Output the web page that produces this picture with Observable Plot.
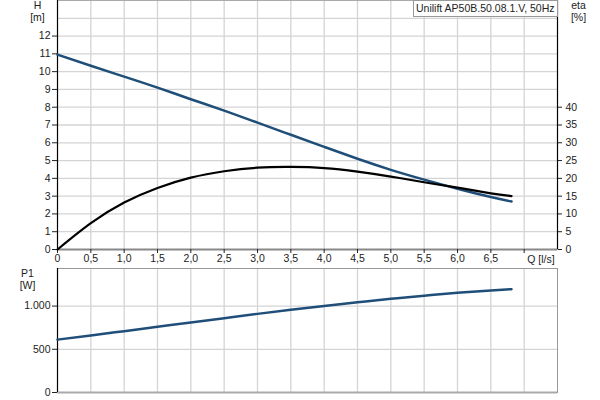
<!DOCTYPE html>
<html><head><meta charset="utf-8">
<script src="https://cdn.jsdelivr.net/npm/d3@7"></script>
<script src="https://cdn.jsdelivr.net/npm/@observablehq/plot@0.6"></script>
<style>
html,body{margin:0;padding:0;background:#fff;}
#chart{position:relative;width:600px;height:400px;font-family:"Liberation Sans",Arial,sans-serif;font-size:10.5px;color:#222;}
#chart svg{position:absolute;left:0;}
#legend{position:absolute;left:413px;top:0px;height:15px;line-height:15px;padding:0 2px;border:1px solid #999;background:#fff;font-size:10.5px;white-space:nowrap;color:#222;}
</style></head><body><div id="chart"></div>
<script>
// ---- data ----
const flow  = [0, 0.5, 1.0, 1.5, 2.0, 2.5, 3.0, 3.5, 4.0, 4.5, 5.0, 5.5, 6.0, 6.5, 6.81];
const head  = [10.96, 10.33, 9.72, 9.10, 8.45, 7.81, 7.13, 6.45, 5.77, 5.10, 4.48, 3.93, 3.42, 2.95, 2.70];
const eta   = [0, 7.4, 13.2, 17.3, 20.2, 22.0, 23.0, 23.2, 22.9, 21.9, 20.5, 18.9, 17.4, 15.8, 15.0];
const power = [612, 660, 710, 760, 810, 860, 910, 957, 1002, 1044, 1084, 1120, 1153, 1181, 1196];

const xTickValues = [0, 0.5, 1, 1.5, 2, 2.5, 3, 3.5, 4, 4.5, 5, 5.5, 6, 6.5, 7];
const xTickLabels = ["0", "0,5", "1,0", "1,5", "2,0", "2,5", "3,0", "3,5", "4,0", "4,5", "5,0", "5,5", "6,0", "6,5", ""];
const xGrid = [0.5, 1, 1.5, 2, 2.5, 3, 3.5, 4, 4.5, 5, 5.5, 6, 6.5, 7];
const hTicks = [0, 1, 2, 3, 4, 5, 6, 7, 8, 9, 10, 11, 12];
const hGrid = [1, 2, 3, 4, 5, 6, 7, 8, 9, 10, 11, 12, 13];
const etaTicks = [0, 5, 10, 15, 20, 25, 30, 35, 40];
const pTicks = [0, 500, 1000];
const pTickLabels = ["0", "500", "1.000"];
const pGrid = [500, 1000];
const legendText = "Unilift AP50B.50.08.1.V, 50Hz";

const pumpRows = flow.map((q, i) => ({q, h: head[i], eta: eta[i], p: power[i]}));

const style = {fontFamily: "'Liberation Sans', Arial, sans-serif", fontSize: "10.5px", color: "#222", background: "transparent", overflow: "visible"};
const gridColor = "#d4d4d4";
const blue = "#1f4e79";

const chart = document.getElementById("chart");

// ---- top chart: H ----
const topPlot = Plot.plot({
  width: 600, height: 265, marginLeft: 57, marginRight: 43, marginTop: 0, marginBottom: 16,
  style,
  x: {domain: [0, 7.5]},
  y: {domain: [0, 14]},
  marks: [
    Plot.ruleX(xGrid, {stroke: gridColor, strokeWidth: 1.3}),
    Plot.ruleY(hGrid, {stroke: gridColor, strokeWidth: 1.3}),
    Plot.frame({stroke: "#aaa"}),
    Plot.ruleY([0], {stroke: "#888", strokeWidth: 2}),
    Plot.ruleX([0], {stroke: "#000", strokeWidth: 1.2}),
    Plot.ruleX([7.5], {stroke: "#000", strokeWidth: 1.2}),
    Plot.axisY({ticks: hTicks, tickSize: 5, tickPadding: 2, label: null}),
    Plot.axisX({ticks: xTickValues, tickFormat: d => xTickLabels[xTickValues.indexOf(d)], tickSize: 4, tickPadding: 1, label: null}),
    Plot.text(["Q [l/s]"], {x: 7.0, y: 0, dx: 3, dy: 10, textAnchor: "start", lineAnchor: "middle"}),
    Plot.text(["H"], {frameAnchor: "top-left", dx: -20, dy: 5, textAnchor: "middle", lineAnchor: "middle"}),
    Plot.text(["[m]"], {frameAnchor: "top-left", dx: -20, dy: 17.5, textAnchor: "middle", lineAnchor: "middle"}),
    Plot.line(pumpRows, {x: "q", y: "h", stroke: blue, strokeWidth: 2.5, curve: "natural"})
  ]
});
topPlot.style.top = "0px";
chart.appendChild(topPlot);

// ---- top chart overlay: eta (right axis) ----
const etaPlot = Plot.plot({
  width: 600, height: 265, marginLeft: 57, marginRight: 43, marginTop: 0, marginBottom: 16,
  style,
  x: {domain: [0, 7.5], axis: null},
  y: {domain: [0, 70]},
  marks: [
    Plot.axisY({anchor: "right", ticks: etaTicks, tickSize: 4, tickPadding: 4, label: null}),
    Plot.text(["eta"], {frameAnchor: "top-right", dx: 21, dy: 5, textAnchor: "middle", lineAnchor: "middle"}),
    Plot.text(["[%]"], {frameAnchor: "top-right", dx: 21, dy: 17.5, textAnchor: "middle", lineAnchor: "middle"}),
    Plot.line(pumpRows, {x: "q", y: "eta", stroke: "#000", strokeWidth: 2.2, curve: "natural"})
  ]
});
etaPlot.style.top = "0px";
chart.appendChild(etaPlot);

// ---- bottom chart: P1 ----
const botPlot = Plot.plot({
  width: 600, height: 135, marginLeft: 57, marginRight: 43, marginTop: 3, marginBottom: 8,
  style,
  x: {domain: [0, 7.5], axis: null},
  y: {domain: [0, 1435]},
  marks: [
    Plot.ruleX(xGrid, {stroke: gridColor, strokeWidth: 1.3}),
    Plot.ruleY(pGrid, {stroke: gridColor, strokeWidth: 1.3}),
    Plot.frame({stroke: "#999"}),
    Plot.ruleY([0], {stroke: "#aaa", strokeWidth: 2}),
    Plot.ruleX([0], {stroke: "#000", strokeWidth: 1.2}),
    Plot.axisY({ticks: pTicks, tickFormat: d => pTickLabels[pTicks.indexOf(d)], tickSize: 5, tickPadding: 2, label: null}),
    Plot.text(["P1"], {frameAnchor: "top-left", dx: -30, dy: 5.5, textAnchor: "middle", lineAnchor: "middle"}),
    Plot.text(["[W]"], {frameAnchor: "top-left", dx: -30, dy: 17.5, textAnchor: "middle", lineAnchor: "middle"}),
    Plot.line(pumpRows, {x: "q", y: "p", stroke: blue, strokeWidth: 2.5, curve: "natural"})
  ]
});
botPlot.style.top = "265px";
chart.appendChild(botPlot);

// ---- legend box ----
const lg = document.createElement("div");
lg.id = "legend";
lg.textContent = legendText;
chart.appendChild(lg);
</script>
</body></html>
